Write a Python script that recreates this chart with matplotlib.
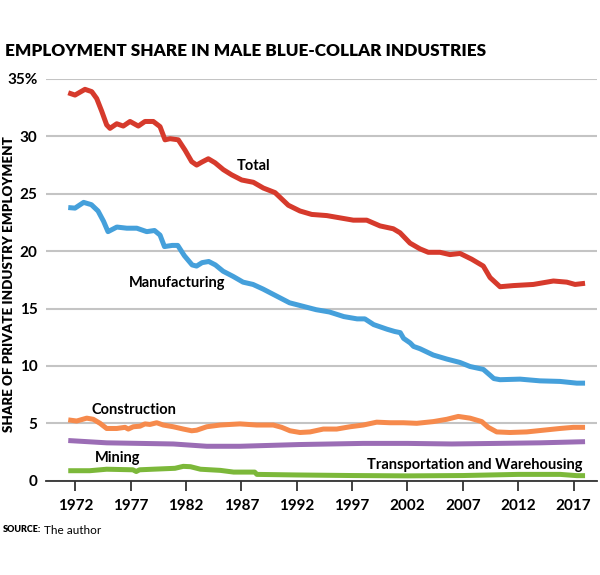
import matplotlib
matplotlib.use('Agg')
import matplotlib.pyplot as plt

# Values (share of private industry employment, %)
total_years = [1971.36, 1971.97, 1972.87, 1973.48, 1973.93, 1974.38, 1974.83, 1975.13, 1975.74,
               1976.33, 1976.94, 1977.69, 1978.29, 1979.04, 1979.65, 1980.10, 1980.55, 1981.30,
               1981.91, 1982.51, 1982.96, 1983.41, 1984.01, 1984.62, 1985.37, 1986.12, 1987.03,
               1988.08, 1988.98, 1990.04, 1991.24, 1992.29, 1993.35, 1994.71, 1995.91, 1997.11,
               1998.32, 1999.52, 2000.72, 2001.33, 2002.23, 2003.13, 2003.88, 2004.94, 2005.84,
               2006.75, 2007.80, 2008.85, 2009.46, 2010.36, 2011.56, 2013.37, 2015.18, 2016.39,
               2017.14, 2018.04]
total = [33.8, 33.6, 34.1, 33.9, 33.3, 32.2, 31.0, 30.7, 31.1,
         30.9, 31.3, 30.9, 31.3, 31.3, 30.85, 29.7, 29.8, 29.7,
         28.8, 27.8, 27.5, 27.75, 28.05, 27.7, 27.1, 26.65, 26.2,
         26.0, 25.5, 25.1, 24.0, 23.5, 23.2, 23.1, 22.9, 22.7,
         22.7, 22.2, 21.95, 21.6, 20.7, 20.2, 19.9, 19.9, 19.7,
         19.8, 19.3, 18.7, 17.7, 16.9, 17.0, 17.1, 17.4, 17.3,
         17.1, 17.2]

manuf_years = [1971.36, 1971.97, 1972.75, 1973.45, 1974.05, 1974.55, 1974.95, 1975.75, 1976.65,
               1977.55, 1978.45, 1979.15, 1979.65, 1980.05, 1980.75, 1981.25, 1981.85, 1982.55,
               1982.95, 1983.45, 1984.05, 1984.65, 1985.35, 1986.25, 1987.15, 1988.05, 1988.95,
               1990.15, 1991.35, 1992.55, 1993.75, 1994.95, 1996.25, 1997.45, 1998.15, 1998.95,
               2000.15, 2000.85, 2001.35, 2001.65, 2002.25, 2002.55, 2003.13, 2004.33, 2005.55,
               2006.75, 2007.65, 2008.85, 2009.45, 2009.80, 2010.36, 2012.17, 2013.97, 2015.78,
               2017.29, 2018.04]
manufacturing = [23.8, 23.75, 24.25, 24.05, 23.5, 22.6, 21.7, 22.1, 22.0,
                 22.0, 21.7, 21.8, 21.4, 20.4, 20.5, 20.5, 19.6, 18.8,
                 18.7, 19.0, 19.1, 18.8, 18.25, 17.8, 17.3, 17.1, 16.7,
                 16.1, 15.5, 15.2, 14.9, 14.7, 14.3, 14.1, 14.1, 13.6,
                 13.2, 13.0, 12.9, 12.4, 12.0, 11.7, 11.5, 10.95, 10.6,
                 10.3, 9.95, 9.7, 9.2, 8.9, 8.8, 8.85, 8.7, 8.65,
                 8.5, 8.5]

constr_years = [1971.36, 1972.12, 1973.03, 1973.62, 1974.23, 1974.83, 1975.74, 1976.49, 1976.78,
                1977.23, 1977.84, 1978.29, 1978.74, 1979.35, 1979.94, 1980.85, 1981.75, 1982.51,
                1982.96, 1983.87, 1985.07, 1986.87, 1988.38, 1989.88, 1990.64, 1991.39, 1992.29,
                1993.20, 1994.40, 1995.61, 1996.81, 1998.01, 1999.22, 2000.42, 2001.63, 2002.84,
                2004.34, 2005.55, 2006.59, 2007.65, 2008.71, 2009.30, 2010.06, 2011.26, 2012.77,
                2014.27, 2015.78, 2016.98, 2018.04]
construction = [5.3, 5.2, 5.45, 5.35, 5.0, 4.55, 4.55, 4.65, 4.5,
                4.7, 4.75, 4.95, 4.9, 5.05, 4.85, 4.7, 4.5, 4.35,
                4.4, 4.7, 4.85, 4.95, 4.85, 4.85, 4.65, 4.35, 4.2,
                4.25, 4.5, 4.5, 4.7, 4.85, 5.1, 5.05, 5.05, 5.0,
                5.15, 5.35, 5.6, 5.45, 5.15, 4.65, 4.25, 4.2, 4.25,
                4.4, 4.55, 4.65, 4.65]

transp_years = [1971.36, 1974.83, 1977.84, 1980.85, 1983.87, 1986.87, 1992.2, 1998.0,
                2002.0, 2006.0, 2010.1, 2014.0, 2018.04]
transportation = [3.5, 3.3, 3.25, 3.2, 3.0, 3.0, 3.15, 3.25,
                  3.25, 3.2, 3.25, 3.3, 3.4]

mining_years = [1971.36, 1973.3, 1974.83, 1977.2, 1977.5, 1977.8, 1979.0, 1981.0, 1981.75,
                1982.4, 1983.3, 1985.1, 1986.3, 1988.2, 1988.4, 1992.0, 1997.0, 2002.0,
                2007.0, 2012.0, 2015.8, 2017.3, 2018.04]
mining = [0.87, 0.87, 1.0, 0.95, 0.8, 0.95, 1.0, 1.08, 1.25,
          1.22, 1.0, 0.9, 0.75, 0.75, 0.55, 0.5, 0.45, 0.42,
          0.45, 0.55, 0.55, 0.44, 0.44]

tick_years = [1972, 1977, 1982, 1987, 1992, 1997, 2002, 2007, 2012, 2017]
y_ticks = [0, 5, 10, 15, 20, 25, 30, 35]
y_labels = ['0', '5', '10', '15', '20', '25', '30', '35%']

FONT = ['Lato', 'DejaVu Sans']
plt.rcParams['font.family'] = FONT

fig = plt.figure(figsize=(6, 5.75), dpi=100)
ax = fig.add_axes([46 / 600, (575 - 480.7) / 575, 551 / 600, (480.7 - 79) / 575])

series = [
    (total_years, total, '#d63a2c'),
    (manuf_years, manufacturing, '#45a0db'),
    (constr_years, construction, '#f68a4c'),
    (transp_years, transportation, '#9b6db5'),
    (mining_years, mining, '#7cb83a'),
]
for xs, ys, col in series:
    ax.plot(xs, ys, color=col, lw=3.6, solid_capstyle='butt', zorder=3, clip_on=False)

ax.set_xlim(1969.35, 2019.12)
ax.set_ylim(0, 35)
ax.set_yticks(y_ticks)
ax.set_yticklabels(y_labels)
ax.set_xticks(tick_years)
ax.set_xticklabels([str(t) for t in tick_years])
ax.yaxis.grid(True, color='#c4c4c4', lw=1.5, zorder=0)
ax.set_axisbelow(True)
for s in ['top', 'right', 'left']:
    ax.spines[s].set_visible(False)
ax.spines['bottom'].set_color('#333333')
ax.spines['bottom'].set_linewidth(1.3)
ax.tick_params(axis='y', length=0, pad=6, labelsize=11)
ax.tick_params(axis='x', length=7, width=1.3, color='#333333', pad=6, labelsize=11)
for lab in ax.get_xticklabels() + ax.get_yticklabels():
    lab.set_fontweight('bold')

# series labels
lab_kw = dict(fontsize=10.5, fontweight='bold', color='black', zorder=4, va='center')
ax.text(1986.6, 27.4, 'Total', **lab_kw)
ax.text(1976.8, 17.2, 'Manufacturing', **lab_kw)
ax.text(1973.5, 6.15, 'Construction', **lab_kw)
ax.text(1998.3, 1.37, 'Transportation and Warehousing', **lab_kw)
ax.text(1973.8, 2.0, 'Mining', **lab_kw)

fig.text(5 / 600, 1 - 51 / 575, 'EMPLOYMENT SHARE IN MALE BLUE-COLLAR INDUSTRIES',
         fontsize=12.3, fontweight='heavy', va='center', ha='left')
fig.text(9 / 600, 1 - 284 / 575, 'SHARE OF PRIVATE INDUSTRY EMPLOYMENT',
         fontsize=9.6, fontweight='heavy', rotation=90, va='center', ha='center')
fig.text(3 / 600, 1 - 530 / 575, 'SOURCE:', fontsize=6.5, fontweight='heavy',
         va='center', ha='left')
fig.text(44 / 600, 1 - 530 / 575, 'The author', fontsize=8.5, va='center', ha='left')

fig.savefig('out.png', dpi=100)
